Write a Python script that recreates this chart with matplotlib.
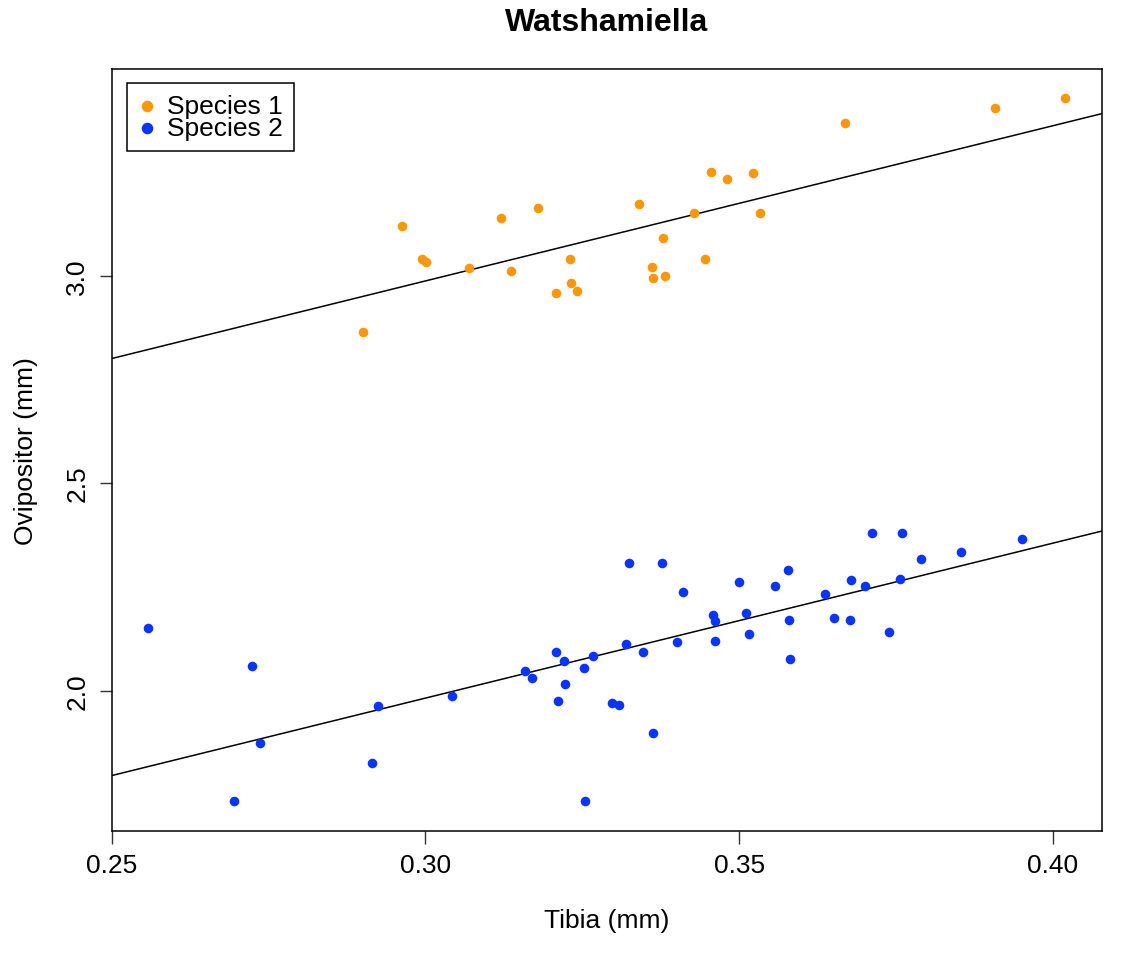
import numpy as np
import matplotlib
matplotlib.use('Agg')
import matplotlib.pyplot as plt

# Tibia / ovipositor lengths (mm)
sp1_tibia = [0.2963, 0.2994, 0.3001, 0.2900, 0.3069, 0.3121, 0.3137, 0.3180, 0.3231,
             0.3208, 0.3232, 0.3241, 0.3340, 0.3428, 0.3379, 0.3361, 0.3363, 0.3381,
             0.3445, 0.3455, 0.3480, 0.3522, 0.3533, 0.3668, 0.3907, 0.4019]
sp1_ovip = [3.120, 3.039, 3.033, 2.865, 3.019, 3.139, 3.011, 3.162, 3.040,
            2.958, 2.983, 2.963, 3.172, 3.151, 3.090, 3.020, 2.994, 2.999,
            3.039, 3.251, 3.234, 3.247, 3.150, 3.369, 3.404, 3.429]

sp2_tibia = [0.2558, 0.2723, 0.2737, 0.2695, 0.2915, 0.2925, 0.3043, 0.3159, 0.3170,
             0.3208, 0.3221, 0.3253, 0.3267, 0.3222, 0.3212, 0.3255, 0.3298, 0.3308,
             0.3325, 0.3377, 0.3411, 0.3319, 0.3347, 0.3401, 0.3362, 0.3458, 0.3461,
             0.3461, 0.3500, 0.3511, 0.3515, 0.3557, 0.3578, 0.3580, 0.3581, 0.3636,
             0.3651, 0.3677, 0.3678, 0.3700, 0.3711, 0.3760, 0.3756, 0.3739, 0.3790,
             0.3854, 0.3951]
sp2_ovip = [2.151, 2.059, 1.874, 1.735, 1.825, 1.962, 1.988, 2.048, 2.030,
            2.094, 2.071, 2.055, 2.084, 2.016, 1.975, 1.734, 1.971, 1.966,
            2.308, 2.308, 2.238, 2.113, 2.094, 2.116, 1.898, 2.182, 2.167,
            2.119, 2.262, 2.187, 2.136, 2.252, 2.290, 2.171, 2.077, 2.233,
            2.176, 2.171, 2.267, 2.252, 2.380, 2.380, 2.269, 2.142, 2.317,
            2.334, 2.365]

# fitted lines (intercept, slope)
sp1_line = (1.865, 3.741)
sp2_line = (0.8615, 3.735)

labels = ['Species 1', 'Species 2']
colors = ['#FA970C', '#0A34FA']

plt.rcParams['font.family'] = ['Liberation Sans', 'DejaVu Sans']

fig = plt.figure(figsize=(11.39, 9.54), dpi=100)
ax = fig.add_axes([0.098, 0.128, 0.8695, 0.7986])

ax.scatter(sp1_tibia, sp1_ovip, s=48, color=colors[0], label=labels[0], linewidths=0, zorder=3)
ax.scatter(sp2_tibia, sp2_ovip, s=48, color=colors[1], label=labels[1], linewidths=0, zorder=3)

for b0, b1 in (sp1_line, sp2_line):
    ax.axline((0, b0), slope=b1, color='black', lw=1.1, zorder=2)

ax.set_xlim(0.2502, 0.4078)
ax.set_ylim(1.662, 3.498)
ax.set_xticks([0.25, 0.30, 0.35, 0.40])
ax.set_xticklabels(['0.25', '0.30', '0.35', '0.40'])
ax.set_yticks([2.0, 2.5, 3.0])
ax.set_yticklabels(['2.0', '2.5', '3.0'], rotation=90, va='center')
ax.tick_params(labelsize=19, length=9, width=1, pad=7, color='#333333')

for sp in ax.spines.values():
    sp.set_linewidth(1.1)

ax.set_xlabel('Tibia (mm)', fontsize=19, labelpad=22)
ax.set_ylabel('Ovipositor (mm)', fontsize=19, labelpad=20)
ax.set_title('Watshamiella', fontsize=23, fontweight='bold', pad=28)

leg = ax.legend(loc='upper left', bbox_to_anchor=(0.0152, 0.9816), borderaxespad=0,
                fontsize=19, frameon=True, fancybox=False, framealpha=1,
                edgecolor='black', handletextpad=0.4, handlelength=0.7,
                labelspacing=-0.08, borderpad=0.42, scatterpoints=1, markerscale=1.2)
leg.get_frame().set_linewidth(1.1)

fig.savefig('out.png', dpi=100)
